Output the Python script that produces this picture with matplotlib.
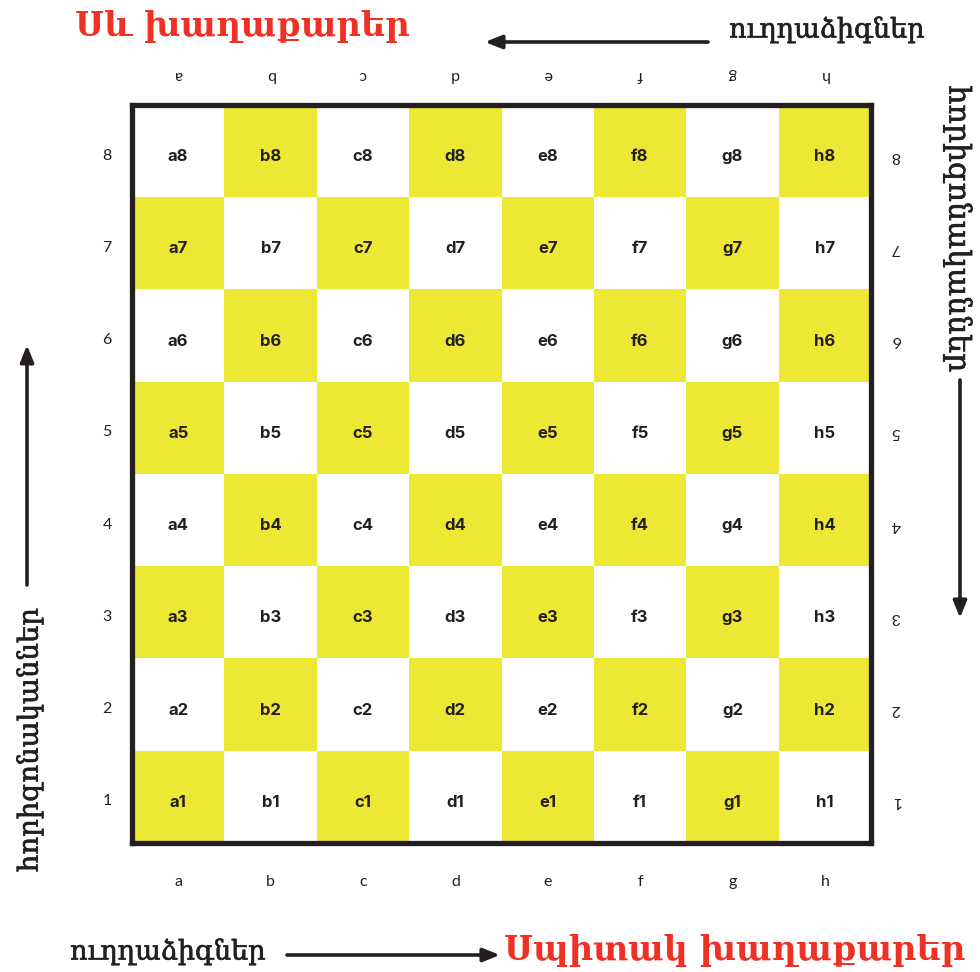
import matplotlib
matplotlib.use("Agg")
import matplotlib.pyplot as plt
from matplotlib.patches import Rectangle
import matplotlib.patheffects as pe

# ---- data ----
files = ["a", "b", "c", "d", "e", "f", "g", "h"]
ranks = ["1", "2", "3", "4", "5", "6", "7", "8"]
title_black = "Սև խաղաքարեր"
title_white = "Սպիտակ խաղաքարեր"
label_files = "ուղղաձիգներ"
label_ranks = "հորիզոնականներ"

YELLOW = "#ECE834"
LIGHT = "#FFFFFF"
INK = "#231F20"
RED = "#EE3124"

W, H = 980, 972
fig = plt.figure(figsize=(W / 100, H / 100), dpi=100)
fig.patch.set_facecolor("white")

# board axes (pixel placement)
bx0, bx1, by0, by1 = 132, 871, 105, 843
ax = fig.add_axes([bx0 / W, 1 - by1 / H, (bx1 - bx0) / W, (by1 - by0) / H])
ax.set_xlim(0, len(files))
ax.set_ylim(0, len(ranks))
ax.set_xticks([])
ax.set_yticks([])
for s in ax.spines.values():
    s.set_linewidth(3.8)
    s.set_color(INK)
    s.set_zorder(5)

cell_font = ["Inter", "Lato", "DejaVu Sans"]
for i, f in enumerate(files):
    for j, r in enumerate(ranks):
        col = YELLOW if (i + j) % 2 == 0 else LIGHT
        ax.add_patch(Rectangle((i, j), 1, 1, facecolor=col, edgecolor="none"))
        ax.text(i + 0.5, j + 0.5 - 0.06, f + r, ha="center", va="center",
                fontsize=12, fontweight="bold", color=INK, family=cell_font)

# coordinate labels
coord_font = ["Lato", "DejaVu Sans"]
for i, f in enumerate(files):
    ax.text(i + 0.5, -0.42, f, ha="center", va="center", fontsize=11.5,
            color=INK, family=coord_font, clip_on=False)
    ax.text(i + 0.5, 8.33, f, ha="center", va="center", fontsize=11.5,
            color=INK, family=coord_font, rotation=180, clip_on=False)
for j, r in enumerate(ranks):
    ax.text(-0.27, j + 0.45, r, ha="center", va="center", fontsize=11.5,
            color=INK, family=coord_font, clip_on=False)
    ax.text(8.27, j + 0.45, r, ha="center", va="center", fontsize=11.5,
            color=INK, family=coord_font, rotation=180, clip_on=False)

# overlay axes in pixel coordinates for titles and arrows
ov = fig.add_axes([0, 0, 1, 1], facecolor="none")
ov.set_xlim(0, W)
ov.set_ylim(H, 0)
ov.axis("off")

serif = ["DejaVu Serif", "DejaVu Sans"]
thick = [pe.withStroke(linewidth=0.45, foreground=INK)]
ov.text(242, 26, title_black, ha="center", va="center", fontsize=24.2,
        fontweight="bold", color=RED, family=serif)
ov.text(735, 950, title_white, ha="center", va="center", fontsize=24.2,
        fontweight="bold", color=RED, family=serif)
ov.text(827, 30, label_files, ha="center", va="center", fontsize=19.5,
        color=INK, family=serif, path_effects=thick)
ov.text(168, 952, label_files, ha="center", va="center", fontsize=19.5,
        color=INK, family=serif, path_effects=thick)
ov.text(30, 740, label_ranks, ha="center", va="center", fontsize=19.8,
        color=INK, family=serif, rotation=90, path_effects=thick)
ov.text(958, 229, label_ranks, ha="center", va="center", fontsize=21.5,
        color=INK, family=serif, rotation=-90, path_effects=thick)

arrow = dict(arrowstyle="-|>,head_length=1.0,head_width=0.4", color=INK,
             lw=2.6, shrinkA=0, shrinkB=0)
ov.annotate("", xy=(485, 42), xytext=(708, 42), arrowprops=arrow)
ov.annotate("", xy=(500, 955), xytext=(287, 955), arrowprops=arrow)
ov.annotate("", xy=(27, 345), xytext=(27, 585), arrowprops=arrow)
ov.annotate("", xy=(960, 618), xytext=(960, 380), arrowprops=arrow)

fig.savefig("out.png", dpi=100, facecolor="white")
